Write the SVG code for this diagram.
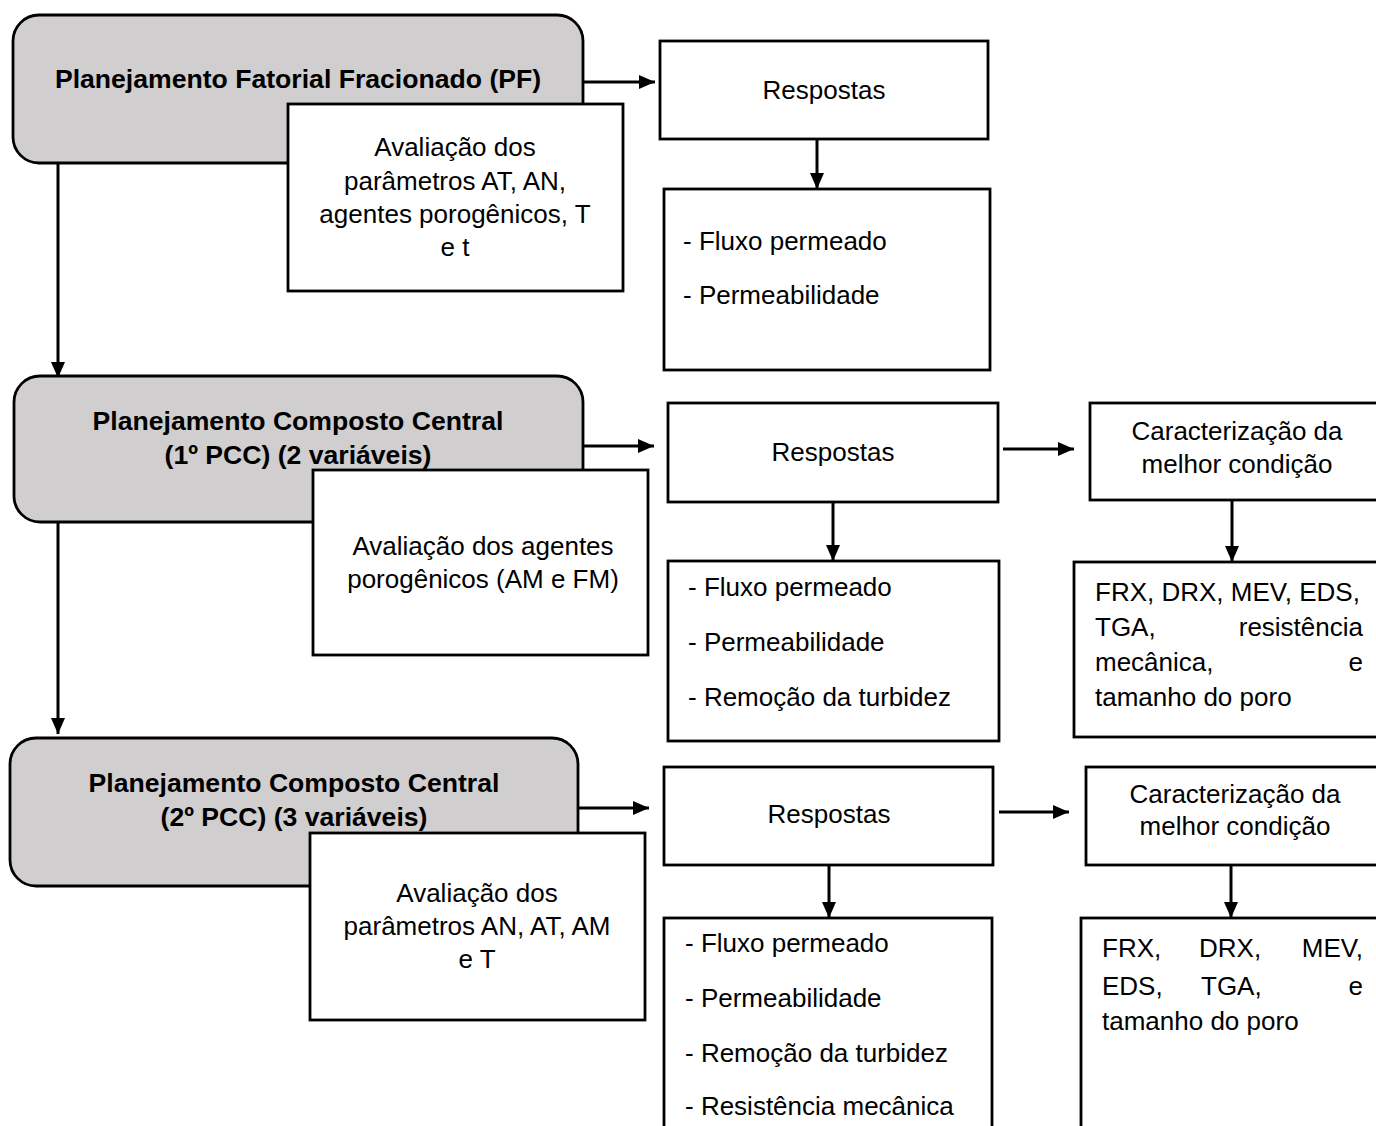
<svg xmlns="http://www.w3.org/2000/svg" width="1376" height="1126" viewBox="0 0 1376 1126">
<style>
  .gray { fill: #d0cece; stroke: #000; stroke-width: 2.8; }
  .box { fill: #fff; stroke: #000; stroke-width: 2.8; }
  .t { font-family: "Liberation Sans", Arial, sans-serif; font-size: 26px; fill: #000; }
  .c { text-anchor: middle; }
  .e { text-anchor: end; }
  .b { font-weight: bold; font-size: 26.6px; }
  .conn line { stroke: #000; stroke-width: 3; marker-end: url(#ah); }
</style>
<defs>
  <marker id="ah" viewBox="0 0 16 16" refX="16" refY="8" markerWidth="16" markerHeight="16" markerUnits="userSpaceOnUse" orient="auto">
    <path d="M0,1 L16,8 L0,15 z" fill="#000"/>
  </marker>
</defs>
<rect width="1376" height="1126" fill="#fff"/>

<g id="connectors" class="conn">
  <line x1="583" y1="82" x2="655" y2="82"/>
  <line x1="817" y1="139" x2="817" y2="189"/>
  <line x1="58" y1="163" x2="58" y2="378"/>
  <line x1="583" y1="446" x2="654" y2="446"/>
  <line x1="833" y1="502" x2="833" y2="561"/>
  <line x1="1003" y1="449" x2="1074" y2="449"/>
  <line x1="1232" y1="500" x2="1232" y2="562"/>
  <line x1="58" y1="522" x2="58" y2="734"/>
  <line x1="578" y1="808" x2="649" y2="808"/>
  <line x1="999" y1="812" x2="1069" y2="812"/>
  <line x1="829" y1="865" x2="829" y2="918"/>
  <line x1="1231" y1="865" x2="1231" y2="918"/>
</g>

<g id="pf">
  <rect class="gray" x="13" y="15" width="570" height="148" rx="26"/>
  <text class="t b c" x="298" y="88">Planejamento Fatorial Fracionado (PF)</text>
</g>
<g id="aval1">
  <rect class="box" x="288" y="104" width="335" height="187"/>
  <text class="t c" x="455" y="156">Avaliação dos</text>
  <text class="t c" x="455" y="190">parâmetros AT, AN,</text>
  <text class="t c" x="455" y="223">agentes porogênicos, T</text>
  <text class="t c" x="455" y="256">e t</text>
</g>
<g id="resp1">
  <rect class="box" x="660" y="41" width="328" height="98"/>
  <text class="t c" x="824" y="99">Respostas</text>
</g>
<g id="list1">
  <rect class="box" x="664" y="189" width="326" height="181"/>
  <text class="t" x="683" y="250">- Fluxo permeado</text>
  <text class="t" x="683" y="304">- Permeabilidade</text>
</g>

<g id="pcc1">
  <rect class="gray" x="14" y="376" width="569" height="146" rx="26"/>
  <text class="t b c" x="298" y="430">Planejamento Composto Central</text>
  <text class="t b c" x="298" y="464">(1º PCC) (2 variáveis)</text>
</g>
<g id="aval2">
  <rect class="box" x="313" y="470" width="335" height="185"/>
  <text class="t c" x="483" y="555">Avaliação dos agentes</text>
  <text class="t c" x="483" y="588">porogênicos (AM e FM)</text>
</g>
<g id="resp2">
  <rect class="box" x="668" y="403" width="330" height="99"/>
  <text class="t c" x="833" y="461">Respostas</text>
</g>
<g id="list2">
  <rect class="box" x="668" y="561" width="331" height="180"/>
  <text class="t" x="688" y="596">- Fluxo permeado</text>
  <text class="t" x="688" y="651">- Permeabilidade</text>
  <text class="t" x="688" y="706">- Remoção da turbidez</text>
</g>
<g id="caract2">
  <rect class="box" x="1090" y="403" width="310" height="97"/>
  <text class="t c" x="1237" y="440">Caracterização da</text>
  <text class="t c" x="1237" y="473">melhor condição</text>
</g>
<g id="frx2">
  <rect class="box" x="1074" y="562" width="326" height="175"/>
  <text class="t" x="1095" y="601">FRX, DRX, MEV, EDS,</text>
  <text class="t" x="1095" y="636">TGA,</text>
  <text class="t e" x="1363" y="636">resistência</text>
  <text class="t" x="1095" y="671">mecânica,</text>
  <text class="t e" x="1363" y="671">e</text>
  <text class="t" x="1095" y="706">tamanho do poro</text>
</g>

<g id="pcc2">
  <rect class="gray" x="10" y="738" width="568" height="148" rx="26"/>
  <text class="t b c" x="294" y="792">Planejamento Composto Central</text>
  <text class="t b c" x="294" y="826">(2º PCC) (3 variáveis)</text>
</g>
<g id="aval3">
  <rect class="box" x="310" y="833" width="335" height="187"/>
  <text class="t c" x="477" y="902">Avaliação dos</text>
  <text class="t c" x="477" y="935">parâmetros AN, AT, AM</text>
  <text class="t c" x="477" y="968">e T</text>
</g>
<g id="resp3">
  <rect class="box" x="664" y="767" width="329" height="98"/>
  <text class="t c" x="829" y="823">Respostas</text>
</g>
<g id="list3">
  <rect class="box" x="664" y="918" width="328" height="230"/>
  <text class="t" x="685" y="952">- Fluxo permeado</text>
  <text class="t" x="685" y="1007">- Permeabilidade</text>
  <text class="t" x="685" y="1062">- Remoção da turbidez</text>
  <text class="t" x="685" y="1115">- Resistência mecânica</text>
</g>
<g id="caract3">
  <rect class="box" x="1086" y="767" width="314" height="98"/>
  <text class="t c" x="1235" y="803">Caracterização da</text>
  <text class="t c" x="1235" y="835">melhor condição</text>
</g>
<g id="frx3">
  <rect class="box" x="1081" y="918" width="319" height="230"/>
  <text class="t" x="1102" y="957">FRX,</text>
  <text class="t" x="1199" y="957">DRX,</text>
  <text class="t e" x="1363" y="957">MEV,</text>
  <text class="t" x="1102" y="995">EDS,</text>
  <text class="t" x="1201" y="995">TGA,</text>
  <text class="t e" x="1363" y="995">e</text>
  <text class="t" x="1102" y="1030">tamanho do poro</text>
</g>
</svg>
